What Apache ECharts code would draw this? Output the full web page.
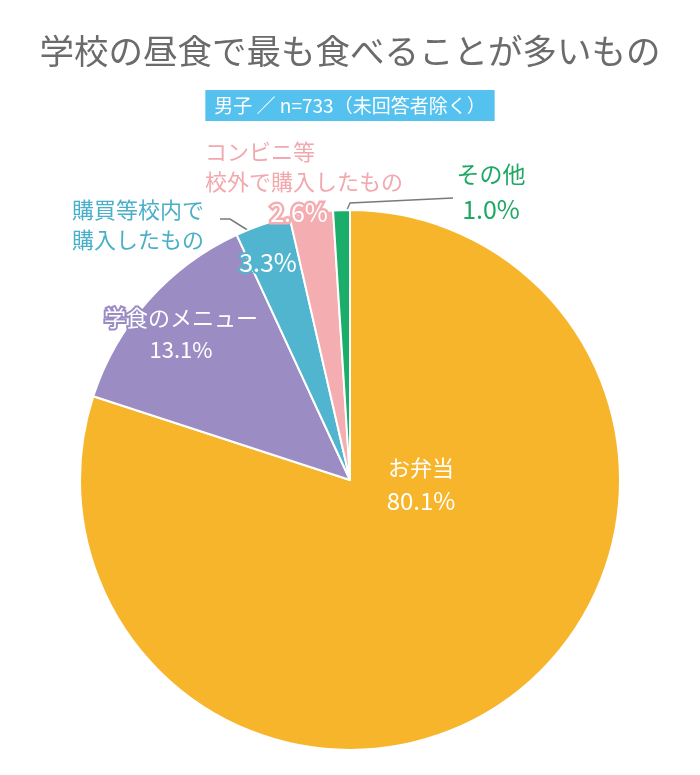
<!DOCTYPE html>
<html><head><meta charset="utf-8">
<script src="https://cdn.jsdelivr.net/npm/echarts@6/dist/echarts.min.js"></script>
<style>html,body{margin:0;background:#fff}#c{width:700px;height:775px}</style>
</head><body><div id="c"></div>
<script>
const categories = ['お弁当','学食のメニュー','購買等校内で購入したもの','コンビニ等校外で購入したもの','その他'];
const labelNames = ['お弁当','学食のメニュー','購買等校内で\n購入したもの','コンビニ等\n校外で購入したもの','その他'];
const values = [80.1,13.1,3.3,2.6,1.0];
const sliceColors = ['#F7B52C','#9B8DC4','#52B5CF','#F4AEB2','#1BAE6B'];
const titleText = '学校の昼食で最も食べることが多いもの';
const subtitleText = '男子 ／ n=733（未回答者除く）';

const FONT = '"Noto Sans CJK JP", "Noto Sans", sans-serif';
const pct = v => v.toFixed(1) + '%';

const labelA = [
  {show:true, formatter: '{n|' + labelNames[0] + '}\n{p|' + pct(values[0]) + '}', color:'#fff',
   rich:{n:{fontFamily:FONT, fontSize:22, lineHeight:33, color:'#fff'}, p:{fontFamily:FONT, fontSize:24, lineHeight:33, color:'#fff'}}},
  {show:true, formatter: '{n|' + labelNames[1] + '}\n{p|' + pct(values[1]) + '}', color:'#fff', textBorderColor:sliceColors[1], textBorderWidth:4,
   rich:{n:{fontFamily:FONT, fontSize:22, lineHeight:32, color:'#fff', textBorderColor:sliceColors[1], textBorderWidth:4},
         p:{fontFamily:FONT, fontSize:22, lineHeight:32, color:'#fff', textBorderColor:sliceColors[1], textBorderWidth:4}}},
  {show:true, formatter: pct(values[2]), color:'#fff', fontSize:25, textBorderColor:sliceColors[2], textBorderWidth:4},
  {show:true, formatter: pct(values[3]), color:'#fff', fontSize:25, textBorderColor:sliceColors[3], textBorderWidth:5},
  {show:true, formatter: '{n|' + labelNames[4] + '}\n{p|' + pct(values[4]) + '}', color:'#1FA865',
   rich:{n:{fontFamily:FONT, fontSize:23, lineHeight:35, color:'#1FA865'}, p:{fontFamily:FONT, fontSize:25, lineHeight:35, color:'#1FA865'}}}
];
const labelB = [
  {show:false}, {show:false},
  {show:true, formatter: labelNames[2], color:'#4AAFC8', fontSize:22, lineHeight:30, align:'left'},
  {show:true, formatter: labelNames[3], color:'#F2A8AC', fontSize:22, lineHeight:30, align:'left'},
  {show:false}
];
const layoutA = [
  {x:421, y:484, align:'center', verticalAlign:'middle'},
  {x:181, y:334, align:'center', verticalAlign:'middle'},
  {x:268, y:262, align:'center', verticalAlign:'middle'},
  {x:299, y:212, align:'center', verticalAlign:'middle'},
  {x:491, y:192, align:'center', verticalAlign:'middle', labelLinePoints:[[340,226],[350,203],[453,198]]}
];
const layoutB = [
  null, null,
  {x:72, y:225, align:'left', verticalAlign:'middle', labelLinePoints:[[262,239],[230,219],[220,219]]},
  {x:205, y:167, align:'left', verticalAlign:'middle'},
  null
];

const chart = echarts.init(document.getElementById('c'), null, {renderer:'canvas'});
chart.setOption({
  backgroundColor:'#fff',
  animation:false,
  textStyle:{fontFamily:FONT},
  title:[
    {text:titleText, left:'center', top:29, textStyle:{fontFamily:FONT, fontSize:34.5, fontWeight:'normal', color:'#6b6b6b'}},
    {text:subtitleText, left:'center', top:90, backgroundColor:'#55C1EE', padding:[5,9],
     textStyle:{fontFamily:FONT, fontSize:19, lineHeight:21, fontWeight:'normal', color:'#fff'}}
  ],
  series:[
    {
      type:'pie', radius:270, center:[350,480], startAngle:90, clockwise:true,
      avoidLabelOverlap:false, silent:true,
      itemStyle:{borderColor:'#fff', borderWidth:2},
      labelLine:{show:false},
      data: categories.map((n,i)=>({
        name:n, value:values[i], itemStyle:{color:sliceColors[i]},
        label:Object.assign({fontFamily:FONT}, labelA[i]),
        labelLine:{show:i===4, lineStyle:{color:'#7a7a7a', width:1.3}}
      })),
      labelLayout: p => layoutA[p.dataIndex]
    },
    {
      type:'pie', radius:270, center:[350,480], startAngle:90, clockwise:true,
      avoidLabelOverlap:false, silent:true,
      itemStyle:{color:'transparent', borderWidth:0},
      labelLine:{show:false},
      data: categories.map((n,i)=>({
        name:n, value:values[i],
        label:Object.assign({fontFamily:FONT}, labelB[i]),
        labelLine:{show:i===2, lineStyle:{color:'#7a7a7a', width:1.6}}
      })),
      labelLayout: p => layoutB[p.dataIndex] || {}
    }
  ]
});
</script></body></html>
